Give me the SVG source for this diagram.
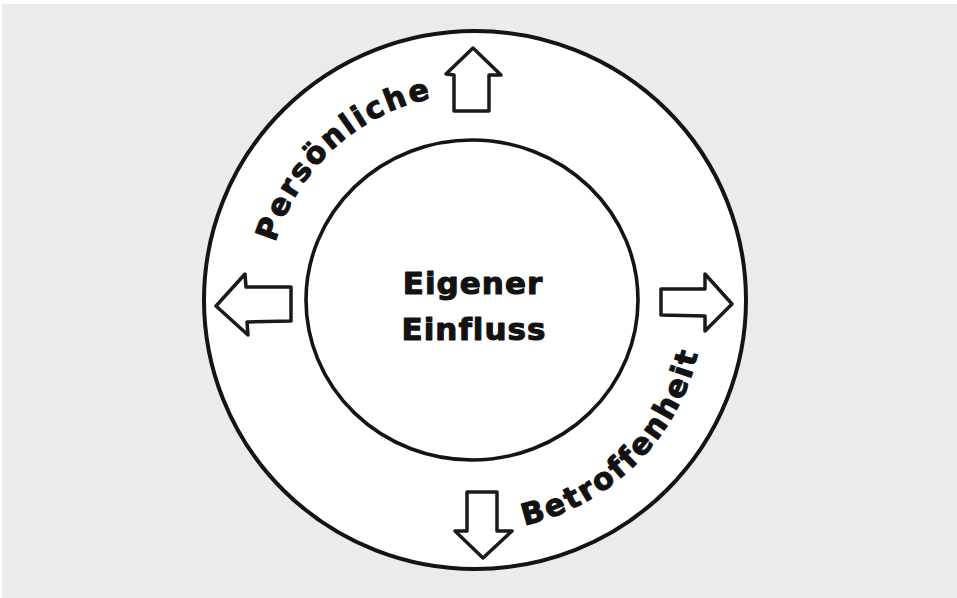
<svg xmlns="http://www.w3.org/2000/svg" width="957" height="598" viewBox="0 0 957 598">
<style>
.ring{fill:none;stroke:#141414}
.arrow{fill:#fff;stroke:#1a1a1a;stroke-width:3.5;stroke-linejoin:round}
.lbl{font-family:"DejaVu Sans","Liberation Sans",sans-serif;font-weight:bold;fill:#121212;stroke:#121212;stroke-width:1.1;stroke-linejoin:round}
</style>
<defs>
<path id="arcTop" d="M267,301 A207,207 0 0 1 492,94.8"/>
<path id="arcBot" d="M474,531 A230,230 0 0 0 704,301"/>
</defs>
<rect width="957" height="598" fill="#ffffff"/>
<rect x="2" y="4" width="955" height="594" fill="#ebebeb"/>
<g id="outer">
<ellipse cx="475" cy="300" rx="271" ry="269" fill="#ffffff"/>
<ellipse class="ring" cx="475" cy="300" rx="271" ry="269" stroke-width="4"/>
<text class="lbl" font-size="30" letter-spacing="2.5"><textPath href="#arcTop" startOffset="50%" text-anchor="middle">Persönliche</textPath></text>
<text class="lbl" font-size="30" letter-spacing="2.5"><textPath href="#arcBot" startOffset="50%" text-anchor="middle">Betroffenheit</textPath></text>
</g>
<g id="inner">
<ellipse class="ring" cx="472" cy="300" rx="166" ry="160" stroke-width="3.6"/>
<text class="lbl" font-size="31" letter-spacing="1" x="473" y="294" text-anchor="middle">Eigener</text>
<text class="lbl" font-size="31" letter-spacing="1" x="474" y="340" text-anchor="middle">Einfluss</text>
</g>
<g id="connectors">
<path class="arrow" d="M473,48 L501,75 L489,75 L489,111 L454,111 L454,75 L446,74 Z"/>
<path class="arrow" d="M216,306 L245,274 L246,287 L291,287 L291,321 L247,322 L248,335 Z"/>
<path class="arrow" d="M732,304 L705,274 L705,289 L661,289 L661,315 L705,316 L705,331 Z"/>
<path class="arrow" d="M483,558 L512,531 L497,531 L497,492 L467,492 L467,531 L455,531 Z"/>
</g>
</svg>
